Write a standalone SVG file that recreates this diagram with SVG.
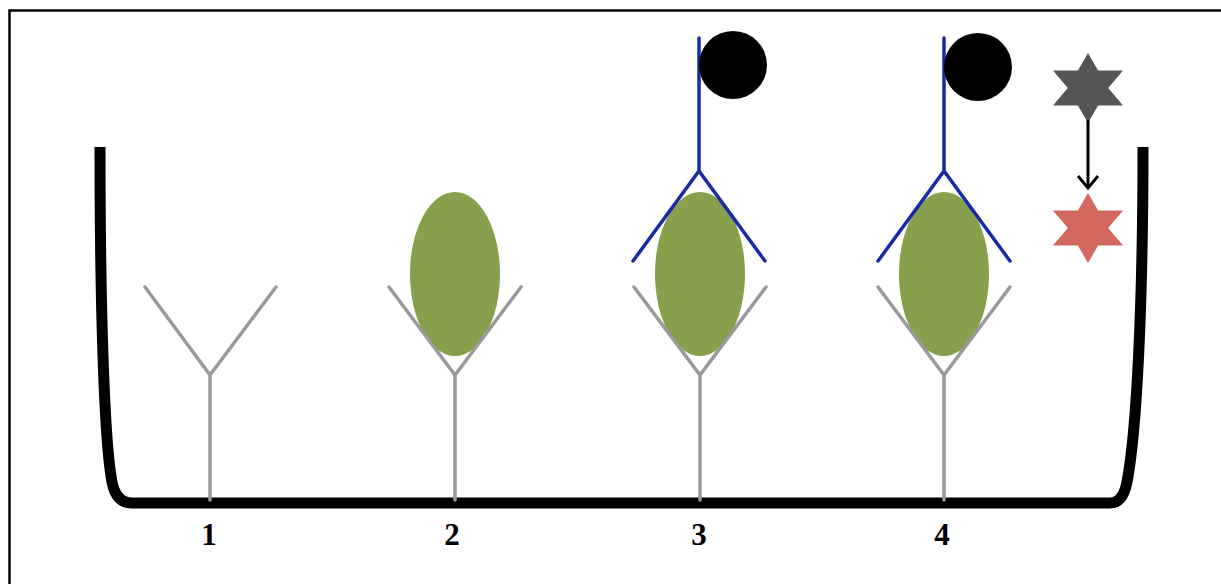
<svg xmlns="http://www.w3.org/2000/svg" width="1221" height="584" viewBox="0 0 1221 584">
  <style>
    .frame { fill: none; stroke: #000; stroke-width: 2.5; }
    .well { fill: none; stroke: #000; stroke-width: 11; stroke-linejoin: round; stroke-linecap: butt; }
    .capture { fill: none; stroke: #9a9a9a; stroke-width: 3.5; stroke-linecap: round; stroke-linejoin: miter; }
    .detect { fill: none; stroke: #1a2aa6; stroke-width: 3.5; stroke-linecap: round; }
    .antigen { fill: #87a04c; }
    .enzyme { fill: #000; }
    .label { font-family: "Liberation Serif", "DejaVu Serif", serif; font-weight: bold; font-size: 31px; fill: #000; text-anchor: middle; }
    .flow { fill: none; stroke: #000; stroke-width: 3; }
  </style>
  <defs>
    <!-- open chevron head, drawn along +x so orient="auto" follows the line -->
    <marker id="chevron" markerWidth="22" markerHeight="24" refX="16" refY="12" orient="auto" markerUnits="userSpaceOnUse">
      <path d="M4,2 L16,12 L4,22" fill="none" stroke="#000" stroke-width="3"/>
    </marker>
  </defs>

  <rect width="1221" height="584" fill="#fff"/>
  <rect class="frame" x="9.5" y="10.5" width="1230" height="600"/>

  <!-- the well -->
  <g id="well">
    <path class="well" d="M100,147 C100,300 104,440 112,482 Q116,503 132,503 L1110,503 Q1123,503 1127,482 C1137,430 1143,300 1143,147"/>
  </g>

  <!-- 1: capture antibody only -->
  <g id="well-1">
    <path class="capture" d="M210,500 L210,375 M145,287 L210,375 L276,287"/>
  </g>

  <!-- 2: capture antibody holding antigen -->
  <g id="well-2">
    <ellipse class="antigen" cx="455" cy="274" rx="45" ry="82"/>
    <path class="capture" d="M455,500 L455,375 M389,287 L455,375 L521,287"/>
  </g>

  <!-- 3: sandwich with enzyme-labelled detection antibody -->
  <g id="well-3">
    <ellipse class="antigen" cx="700" cy="274" rx="45" ry="82"/>
    <path class="capture" d="M700,500 L700,375 M634,287 L700,375 L766,287"/>
    <path class="detect" d="M699,38 L699,171 M633,261 L699,171 L765,261"/>
    <circle class="enzyme" cx="733" cy="65" r="34"/>
  </g>

  <!-- 4: same sandwich -->
  <g id="well-4">
    <ellipse class="antigen" cx="944" cy="274" rx="45" ry="82"/>
    <path class="capture" d="M944,500 L944,375 M878,287 L944,375 L1010,287"/>
    <path class="detect" d="M944,38 L944,171 M878,261 L944,171 L1010,261"/>
    <circle class="enzyme" cx="978" cy="67" r="34"/>
  </g>

  <!-- substrate turned into coloured product -->
  <g id="substrate">
    <polygon fill="#555555" points="1088,53 1098.1,70.5 1123,70.5 1108.2,88 1123,105.5 1098.1,105.5 1088,123 1077.9,105.5 1053,105.5 1067.8,88 1053,70.5 1077.9,70.5"/>
  </g>
  <g id="product">
    <polygon fill="#d4675e" points="1088,193 1098.1,210.5 1123,210.5 1108.2,228 1123,245.5 1098.1,245.5 1088,263 1077.9,245.5 1053,245.5 1067.8,228 1053,210.5 1077.9,210.5"/>
  </g>

  <g id="connectors">
    <line class="flow" x1="1088" y1="120" x2="1088" y2="188" marker-end="url(#chevron)"/>
  </g>

  <g id="labels">
    <text class="label" x="209" y="545">1</text>
    <text class="label" x="452" y="545">2</text>
    <text class="label" x="699" y="545">3</text>
    <text class="label" x="942" y="545">4</text>
  </g>
</svg>
